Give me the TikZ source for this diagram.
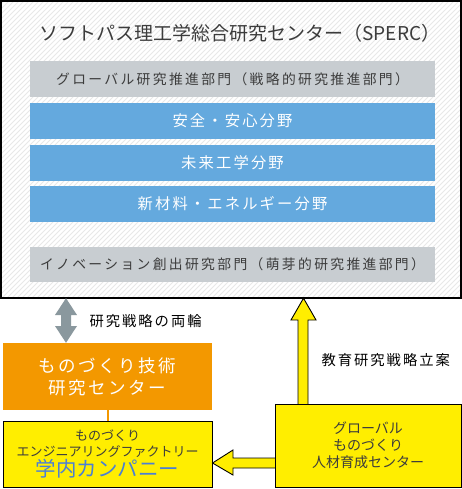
\documentclass[tikz,border=0pt]{standalone}
\usepackage{fontspec}
\setmainfont{Noto Sans CJK JP}
\newfontfamily\jpsp[LetterSpace=14]{Noto Sans CJK JP}
\newfontfamily\jpspb[LetterSpace=17]{Noto Sans CJK JP}
\usetikzlibrary{calc}
\definecolor{barblue}{HTML}{64A9DE}
\definecolor{bargray}{HTML}{C8CDD1}
\definecolor{orng}{HTML}{F39800}
\definecolor{ylw}{HTML}{FFEE00}
\definecolor{txtgray}{HTML}{3C3C3C}
\definecolor{arrgray}{HTML}{8A989E}
\definecolor{kblue}{HTML}{4A7FD6}
\tikzset{
  bar/.style={minimum width=405pt, inner sep=0pt, font=\jpsp\fontsize{15.3}{18}\selectfont, text=white},
  graybar/.style={bar, fill=bargray, text=txtgray, font=\jpspb\fontsize{13.8}{16}\selectfont},
  bluebar/.style={bar, fill=barblue},
  ybox/.style={draw=black, line width=1pt, fill=ylw, inner sep=0pt, align=center},
  yarrow/.style={draw=black, line width=0.9pt, fill=ylw, line join=miter},
  lbl/.style={font=\jpsp\fontsize{14.3}{16}\selectfont, text=black}
}
\begin{document}
\begin{tikzpicture}[x=1pt,y=-1pt]
\useasboundingbox (0,0) rectangle (462,489);
\fill[white] (0,0) rectangle (462,489);
% outer box
\node[minimum width=460pt, minimum height=297pt, inner sep=0pt] (sperc) at (231,149.5) {};
\begin{scope}
\clip (sperc.south west) rectangle (sperc.north east);
\foreach \i in {-300,-295,...,465} {
  \draw[black!9, line width=0.8pt] (\i,300) -- (\i+300,0);
}
\end{scope}
\draw[line width=1.5pt] (sperc.south west) rectangle (sperc.north east);
\node[font=\fontsize{19}{22}\selectfont, text=txtgray] (title) at (240,33) {ソフトパス理工学総合研究センター（SPERC）};
\node[graybar, minimum height=36pt] (g1) at (232.5,79) {グローバル研究推進部門（戦略的研究推進部門）};
\node[bluebar, minimum height=36pt] (b1) at (232.5,121) {安全・安心分野};
\node[bluebar, minimum height=36pt] (b2) at (232.5,163) {未来工学分野};
\node[bluebar, minimum height=36pt] (b3) at (232.5,204) {新材料・エネルギー分野};
\node[graybar, minimum height=35pt] (g2) at (232.5,264.5) {イノベーション創出研究部門（萌芽的研究推進部門）};

% orange box
\node[fill=orng, minimum width=209pt, minimum height=67pt, inner sep=0pt, align=center, text=white,
  font=\jpsp\fontsize{17.5}{22}\selectfont] (mono) at (107.5,376.5) {ものづくり技術\\研究センター};
% gray double arrow
\fill[arrgray] (66,0 |- sperc.south) -- (77,315) -- (71,315) -- (71,326) -- (77,326)
  -- (66,0 |- mono.north) -- (55,326) -- (61,326) -- (61,315) -- (55,315) -- cycle;
\node[lbl, anchor=west] (l1) at (86,321) {研究戦略の両輪};

% yellow boxes
\node[ybox, minimum width=209pt, minimum height=66pt, font=\fontsize{13}{16}\selectfont, text=txtgray] (fac) at (107.5,454)
  {ものづくり\\エンジニアリングファクトリー\\[0pt]{\fontsize{20.5}{22}\selectfont\color{kblue}学内カンパニー}};
\draw[orng, line width=2pt] (mono.south) -- (fac.north);

\node[minimum width=186pt, minimum height=83pt, inner sep=0pt] (glob) at (368,445.5) {};
% up arrow
\draw[yarrow] (298,0 |- glob.north) -- (298,320) -- (291,320) -- (303.5,0 |- sperc.south)
  -- (316,320) -- (308,320) -- (308,0 |- glob.north);
% left arrow
\draw[yarrow] (glob.west |- 0,458) -- (233,458) -- (233,450) -- (fac.east |- 0,463)
  -- (233,475) -- (233,468) -- (glob.west |- 0,468);
\node[ybox, minimum width=186pt, minimum height=83pt, font=\fontsize{14}{17}\selectfont, text=txtgray] (glob2) at (glob)
  {グローバル\\ものづくり\\人材育成センター};
\node[lbl, anchor=west] (l2) at (318,360) {教育研究戦略立案};
\end{tikzpicture}
\end{document}
